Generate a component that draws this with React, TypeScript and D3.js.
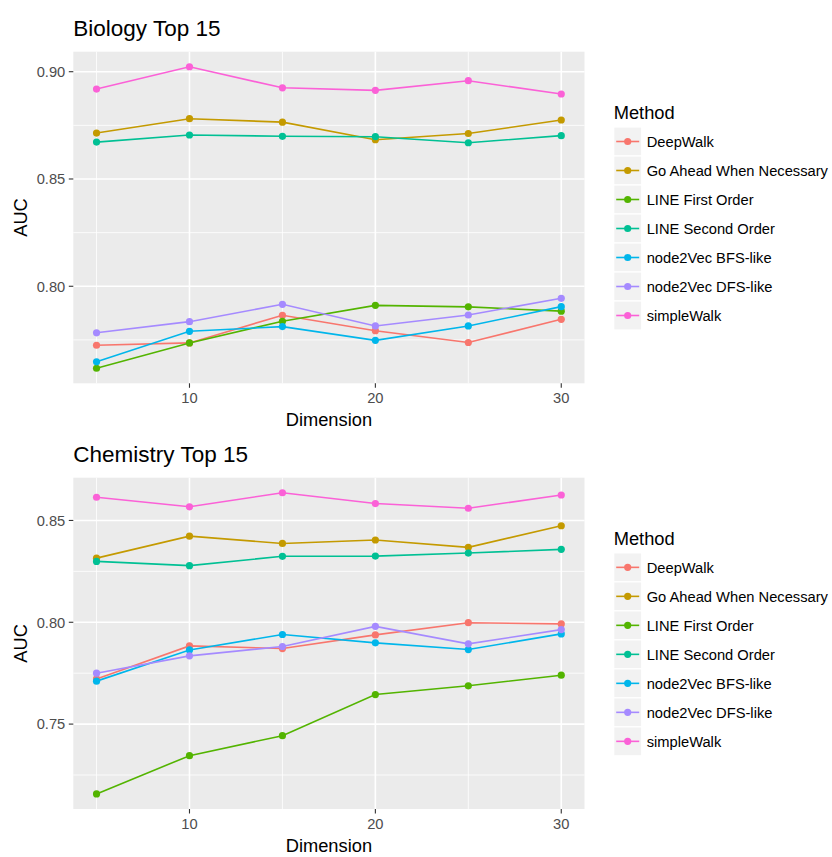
import React from "react";
import * as d3 from "d3";

const dimensions = [5, 10, 15, 20, 25, 30];
const methods = [
  "DeepWalk",
  "Go Ahead When Necessary",
  "LINE First Order",
  "LINE Second Order",
  "node2Vec BFS-like",
  "node2Vec DFS-like",
  "simpleWalk",
];
const methodColors = ["#F8766D", "#C49A00", "#53B400", "#00C094", "#00B6EB", "#A58AFF", "#FB61D7"];

// Biology Top 15
const bioDeepWalk = [0.7725, 0.7736, 0.7865, 0.7793, 0.7738, 0.7846];
const bioGoAhead = [0.8714, 0.8781, 0.8765, 0.8683, 0.8712, 0.8775];
const bioLineFirst = [0.7618, 0.7736, 0.7837, 0.7911, 0.7904, 0.7884];
const bioLineSecond = [0.8672, 0.8705, 0.8699, 0.8697, 0.8669, 0.8702];
const bioBFS = [0.7648, 0.779, 0.7812, 0.7748, 0.7815, 0.7905];
const bioDFS = [0.7783, 0.7835, 0.7916, 0.7815, 0.7866, 0.7944];
const bioSimpleWalk = [0.8919, 0.9023, 0.8925, 0.8913, 0.8958, 0.8896];

// Chemistry Top 15
const chemDeepWalk = [0.7722, 0.7884, 0.7871, 0.7938, 0.7998, 0.7992];
const chemGoAhead = [0.8315, 0.8423, 0.8387, 0.8404, 0.8368, 0.8474];
const chemLineFirst = [0.7157, 0.7345, 0.7443, 0.7645, 0.7688, 0.774];
const chemLineSecond = [0.8299, 0.8278, 0.8324, 0.8325, 0.834, 0.8358];
const chemBFS = [0.7711, 0.7864, 0.794, 0.7899, 0.7866, 0.7943];
const chemDFS = [0.775, 0.7835, 0.7881, 0.798, 0.7894, 0.7964];
const chemSimpleWalk = [0.8614, 0.8567, 0.8636, 0.8583, 0.856, 0.8625];

const xTicks = [10, 20, 30];
const xMinor = [5, 15, 25];
const bioYTicks = [0.8, 0.85, 0.9];
const bioYMinor = [0.775, 0.825, 0.875];
const chemYTicks = [0.75, 0.8, 0.85];
const chemYMinor = [0.725, 0.775, 0.825];

const bioSeries = [bioDeepWalk, bioGoAhead, bioLineFirst, bioLineSecond, bioBFS, bioDFS, bioSimpleWalk];
const chemSeries = [chemDeepWalk, chemGoAhead, chemLineFirst, chemLineSecond, chemBFS, chemDFS, chemSimpleWalk];

const FONT = "'Liberation Sans', Arial, Helvetica, sans-serif";

type PanelProps = {
  title: string;
  series: number[][];
  yTicks: number[];
  yMinor: number[];
  top: number;
  bottom: number;
};

function Panel({ title, series, yTicks, yMinor, top, bottom }: PanelProps) {
  const left = 73.3;
  const right = 584.5;
  const xExt = d3.extent(dimensions) as [number, number];
  const xPad = (xExt[1] - xExt[0]) * 0.05;
  const x = d3.scaleLinear().domain([xExt[0] - xPad, xExt[1] + xPad]).range([left, right]);
  const all = series.flat();
  const yExt = d3.extent(all) as [number, number];
  const yPad = (yExt[1] - yExt[0]) * 0.05;
  const y = d3.scaleLinear().domain([yExt[0] - yPad, yExt[1] + yPad]).range([bottom, top]);
  const line = d3
    .line<number>()
    .x((_, i) => x(dimensions[i]))
    .y((d) => y(d));
  const midX = (left + right) / 2;
  const midY = (top + bottom) / 2;
  return (
    <g>
      <text x={left} y={top - 15.5} fontSize={22.5} fill="#000" fontFamily={FONT}>
        {title}
      </text>
      <rect x={left} y={top} width={right - left} height={bottom - top} fill="#EBEBEB" />
      {yMinor.map((t) => (
        <line key={"ym" + t} x1={left} x2={right} y1={y(t)} y2={y(t)} stroke="#fff" strokeWidth={0.8} />
      ))}
      {xMinor.map((t) => (
        <line key={"xm" + t} x1={x(t)} x2={x(t)} y1={top} y2={bottom} stroke="#fff" strokeWidth={0.8} />
      ))}
      {yTicks.map((t) => (
        <line key={"yM" + t} x1={left} x2={right} y1={y(t)} y2={y(t)} stroke="#fff" strokeWidth={1.6} />
      ))}
      {xTicks.map((t) => (
        <line key={"xM" + t} x1={x(t)} x2={x(t)} y1={top} y2={bottom} stroke="#fff" strokeWidth={1.6} />
      ))}
      {series.map((s, i) => (
        <path key={"l" + i} d={line(s) || ""} fill="none" stroke={methodColors[i]} strokeWidth={1.6} />
      ))}
      {series.map((s, i) =>
        s.map((v, j) => (
          <circle key={"p" + i + "-" + j} cx={x(dimensions[j])} cy={y(v)} r={3.6} fill={methodColors[i]} />
        ))
      )}
      {yTicks.map((t) => (
        <g key={"yt" + t}>
          <line x1={left - 4.5} x2={left} y1={y(t)} y2={y(t)} stroke="#333" strokeWidth={1.1} />
          <text
            x={left - 8}
            y={y(t)}
            dy="0.36em"
            textAnchor="end"
            fontSize={14.7}
            fill="#4D4D4D"
            fontFamily={FONT}
          >
            {d3.format(".2f")(t)}
          </text>
        </g>
      ))}
      {xTicks.map((t) => (
        <g key={"xt" + t}>
          <line x1={x(t)} x2={x(t)} y1={bottom} y2={bottom + 4.5} stroke="#333" strokeWidth={1.1} />
          <text x={x(t)} y={bottom + 19.5} textAnchor="middle" fontSize={14.7} fill="#4D4D4D" fontFamily={FONT}>
            {t}
          </text>
        </g>
      ))}
      <text x={midX} y={bottom + 42.5} textAnchor="middle" fontSize={18.3} fill="#000" fontFamily={FONT}>
        Dimension
      </text>
      <text
        transform={`translate(27,${midY}) rotate(-90)`}
        textAnchor="middle"
        fontSize={18.3}
        fill="#000"
        fontFamily={FONT}
      >
        AUC
      </text>
      <Legend top={midY - 104.5} />
    </g>
  );
}

function Legend({ top }: { top: number }) {
  const keyX = 613.7;
  const keySize = 29;
  const firstY = top + 14;
  return (
    <g>
      <text x={keyX} y={top + 6} fontSize={18.3} fill="#000" fontFamily={FONT}>
        Method
      </text>
      {methods.map((m, i) => {
        const cy = firstY + i * keySize + keySize / 2;
        return (
          <g key={m}>
            <rect x={keyX} y={firstY + i * keySize} width={keySize - 1} height={keySize} fill="#F2F2F2" stroke="#fff" strokeWidth={1.2} />
            <line x1={keyX + 2.5} x2={keyX + keySize - 3.5} y1={cy} y2={cy} stroke={methodColors[i]} strokeWidth={1.6} />
            <circle cx={keyX + (keySize - 1) / 2} cy={cy} r={3.6} fill={methodColors[i]} />
            <text x={keyX + 33} y={cy} dy="0.36em" fontSize={14.7} fill="#000" fontFamily={FONT}>
              {m}
            </text>
          </g>
        );
      })}
    </g>
  );
}

export default function App() {
  return (
    <svg
      width={832}
      height={857}
      style={{ position: "absolute", left: 0, top: 0, background: "#fff" }}
    >
      <rect width={832} height={857} fill="#fff" />
      <Panel title="Biology Top 15" series={bioSeries} yTicks={bioYTicks} yMinor={bioYMinor} top={51.7} bottom={383.3} />
      <Panel title="Chemistry Top 15" series={chemSeries} yTicks={chemYTicks} yMinor={chemYMinor} top={477.7} bottom={809} />
    </svg>
  );
}
